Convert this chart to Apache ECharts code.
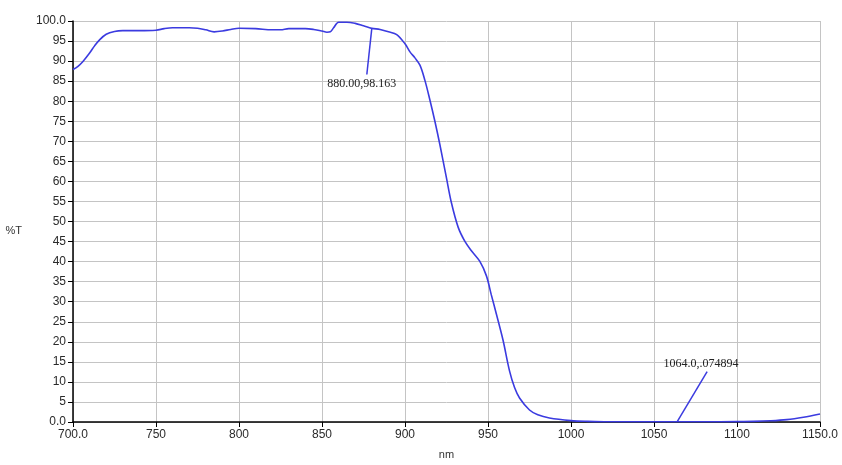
<!DOCTYPE html>
<html>
<head>
<meta charset="utf-8">
<script src="https://cdn.jsdelivr.net/npm/echarts@6/dist/echarts.min.js"></script>
<style>html,body{margin:0;padding:0;background:#fff}#c{width:842px;height:465px}</style>
</head>
<body>
<div id="c"></div>
<script>
var wavelengths = [700,703,706,710,713,716,720,725,730,740,750,755,760,770,775,780,785,790,795,800,810,820,825,830,840,845,850,853,855,857,860,865,870,875,880,885,890,895,900,903,906,909,912,915,918,921,925,928,932,936,940,945,949,952,955,959,963,966,969,975,980,987,1000,1010,1020,1040,1064,1080,1100,1110,1120,1130,1140,1150];
var transmission = [87.9,88.7,89.9,92.0,93.8,95.3,96.7,97.4,97.6,97.6,97.7,98.1,98.3,98.3,98.2,97.8,97.3,97.5,97.9,98.2,98.1,97.8,97.8,98.1,98.1,97.9,97.5,97.2,97.3,98.3,99.7,99.7,99.4,98.8,98.163,97.9,97.3,96.6,94.3,92.3,90.8,89.0,85.2,80.3,75.0,69.2,60.8,54.6,48.6,45.1,42.7,40.1,36.5,31.7,27.0,20.5,12.7,8.6,6.0,3.0,1.8,1.0,0.35,0.15,0.08,0.05,0.074894,0.06,0.1,0.15,0.3,0.6,1.2,2.0];
var annotX = [880, 1064];
var annotY = [98.163, 0.074894];
var annotText = ['880.00,98.163', '1064.0,.074894'];

var data = wavelengths.map(function(w,i){return [w, transmission[i]];});
var lineColor = '#3b3be0';
var chart = echarts.init(document.getElementById('c'));
var leaderEnds = [[-3, -11.5], [18, 12.5]];
var labelPos = [[-6, -13.8], [14.3, 14.4]];
chart.setOption({
  animation: false,
  grid: {left: 73, right: 22, top: 21, bottom: 38},
  xAxis: {
    type: 'value', min: 700, max: 1150, interval: 50,
    name: 'nm', nameLocation: 'middle', nameGap: 27,
    nameTextStyle: {color: '#333', fontFamily: 'Liberation Sans', fontSize: 11},
    axisLine: {show: true, lineStyle: {color: '#000', width: 1.5}},
    axisTick: {show: true, length: 5, lineStyle: {color: '#000'}},
    axisLabel: {color: '#2a2a2a', fontFamily: 'Liberation Sans', fontSize: 12, margin: 7,
      formatter: function(v){ return (v===700||v===1150) ? v.toFixed(1) : String(v); }},
    splitLine: {show: true, lineStyle: {color: '#c4c4c4', width: 1}}
  },
  yAxis: {
    type: 'value', min: 0, max: 100, interval: 5,
    name: '\n\n%T', nameLocation: 'middle', nameGap: 51, nameRotate: 0,
    nameTextStyle: {color: '#333', fontFamily: 'Liberation Sans', fontSize: 11, lineHeight: 9},
    axisLine: {show: true, lineStyle: {color: '#000', width: 1.5}},
    axisTick: {show: true, length: 5, lineStyle: {color: '#000'}},
    axisLabel: {color: '#2a2a2a', fontFamily: 'Liberation Sans', fontSize: 12, margin: 7,
      formatter: function(v){ return (v===0||v===100) ? v.toFixed(1) : String(v); }},
    splitLine: {show: true, lineStyle: {color: '#c4c4c4', width: 1}}
  },
  series: [{
    type: 'line', data: data, showSymbol: false, smooth: 0.35,
    lineStyle: {color: lineColor, width: 1.6},
    markLine: {
      silent: true, symbol: ['none','none'], label: {show: false},
      lineStyle: {color: lineColor, width: 1.5, type: 'solid'},
      data: annotX.map(function(x,i){
        return [{coord: [x, annotY[i]]}, {coord: [x + leaderEnds[i][0], annotY[i] + leaderEnds[i][1]]}];
      })
    },
    markPoint: {
      silent: true, symbol: 'circle', symbolSize: 0,
      data: annotX.map(function(x,i){
        return {coord: [x + labelPos[i][0], annotY[i] + labelPos[i][1]], value: annotText[i],
          label: {show: true, position: 'inside', formatter: annotText[i], color: '#222',
            fontFamily: 'Liberation Serif', fontSize: 12}};
      })
    }
  }]
});
</script>
</body>
</html>
